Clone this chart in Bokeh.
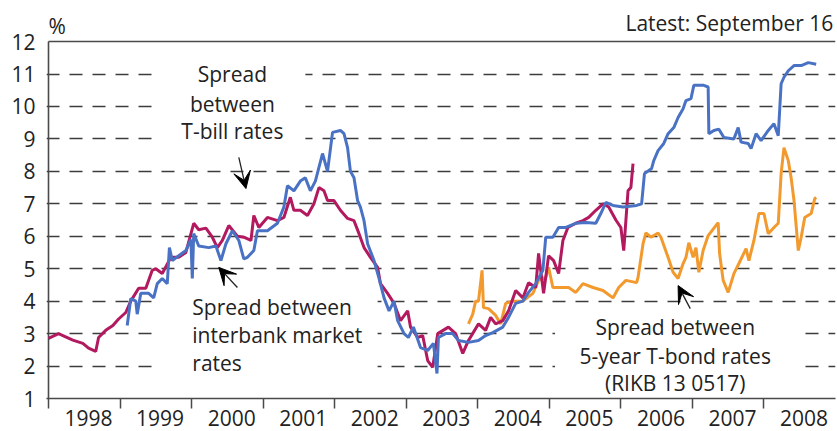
from bokeh.plotting import figure
from bokeh.models import Range1d, FixedTicker, Label, Arrow, VeeHead
from bokeh.embed import file_html
from bokeh.resources import INLINE

# ---------------- data (decimal year, %) ----------------
interbank_t = [1998.00, 1998.14, 1998.34, 1998.48, 1998.56, 1998.66, 1998.70, 1998.80, 1998.90, 1998.98,
               1999.08, 1999.15, 1999.26, 1999.36, 1999.45, 1999.50, 1999.59, 1999.71, 1999.82, 1999.92,
               2000.03, 2000.10, 2000.20, 2000.29, 2000.36, 2000.43, 2000.52, 2000.64, 2000.73, 2000.83,
               2000.87, 2000.94, 2001.06, 2001.20, 2001.29, 2001.38, 2001.43, 2001.52, 2001.62, 2001.71,
               2001.78, 2001.85, 2001.90, 2001.99, 2002.08, 2002.18, 2002.27, 2002.34, 2002.41, 2002.50,
               2002.60, 2002.64, 2002.74, 2002.83, 2002.92, 2003.02, 2003.06, 2003.16, 2003.23, 2003.30,
               2003.37, 2003.44, 2003.59, 2003.69, 2003.79, 2003.87, 2004.01, 2004.11, 2004.18, 2004.25,
               2004.35, 2004.43, 2004.53, 2004.63, 2004.71, 2004.81, 2004.85, 2004.92, 2004.99, 2005.06,
               2005.13, 2005.19, 2005.26, 2005.37, 2005.47, 2005.55, 2005.65, 2005.75, 2005.83, 2005.93,
               2006.00, 2006.04, 2006.10, 2006.14, 2006.17]
interbank_v = [2.85, 3.00, 2.80, 2.70, 2.55, 2.45, 2.88, 3.10, 3.25, 3.45,
               3.65, 4.00, 4.40, 4.40, 4.95, 5.00, 4.85, 5.35, 5.35, 5.50,
               6.40, 6.20, 6.25, 5.97, 5.65, 5.87, 6.33, 6.00, 5.97, 5.87,
               6.64, 6.27, 6.58, 6.48, 6.58, 7.20, 6.80, 6.80, 6.64, 7.00,
               7.50, 7.40, 7.10, 7.10, 6.80, 6.55, 6.48, 6.08, 5.65, 5.35,
               5.04, 4.54, 4.24, 3.93, 3.40, 3.70, 3.20, 2.88, 2.94, 2.17,
               1.96, 3.00, 3.20, 3.00, 2.39, 2.79, 3.30, 3.10, 3.50, 3.30,
               3.40, 3.70, 4.33, 4.10, 4.57, 4.42, 5.47, 4.24, 5.40, 5.25,
               4.85, 5.87, 6.27, 6.40, 6.48, 6.58, 6.80, 7.00, 6.90, 6.50,
               6.27, 5.56, 7.40, 7.50, 8.24]

tbill_t = [1999.10, 1999.15, 1999.22, 1999.24, 1999.29, 1999.40, 1999.47, 1999.52, 1999.59, 1999.66,
           1999.69, 1999.73, 1999.82, 1999.92, 1999.99, 2000.01, 2000.03, 2000.10, 2000.24, 2000.34,
           2000.41, 2000.48, 2000.57, 2000.66, 2000.73, 2000.78, 2000.87, 2000.92, 2001.06, 2001.20,
           2001.29, 2001.34, 2001.43, 2001.52, 2001.59, 2001.66, 2001.73, 2001.83, 2001.90, 2001.97,
           2002.08, 2002.13, 2002.18, 2002.22, 2002.27, 2002.32, 2002.36, 2002.41, 2002.46, 2002.55,
           2002.62, 2002.69, 2002.76, 2002.83, 2002.88, 2002.97, 2003.03, 2003.10, 2003.20, 2003.30,
           2003.38, 2003.43, 2003.45, 2003.55, 2003.65, 2003.73, 2003.87, 2004.01, 2004.11, 2004.21,
           2004.35, 2004.43, 2004.53, 2004.63, 2004.71, 2004.81, 2004.91, 2004.95, 2005.05, 2005.13,
           2005.23, 2005.37, 2005.51, 2005.65, 2005.72, 2005.79, 2005.89, 2006.03, 2006.22, 2006.29,
           2006.33, 2006.43, 2006.46, 2006.52, 2006.60, 2006.66, 2006.74, 2006.80, 2006.87, 2006.91,
           2006.98, 2007.02, 2007.16, 2007.22, 2007.23, 2007.30, 2007.37, 2007.44, 2007.58, 2007.64,
           2007.68, 2007.78, 2007.82, 2007.89, 2007.96, 2008.06, 2008.14, 2008.20, 2008.24, 2008.28,
           2008.34, 2008.42, 2008.52, 2008.62, 2008.73]
tbill_v = [3.25, 4.08, 4.00, 3.60, 4.24, 4.24, 4.10, 4.54, 4.70, 4.54,
           5.65, 5.25, 5.40, 5.56, 5.90, 4.70, 6.08, 5.70, 5.65, 5.70,
           5.25, 5.77, 6.17, 5.87, 5.30, 5.35, 5.56, 6.17, 6.17, 6.40,
           6.90, 7.56, 7.40, 7.70, 7.80, 7.40, 7.70, 8.55, 8.00, 9.20,
           9.26, 9.16, 8.73, 8.00, 7.80, 7.10, 6.90, 6.48, 5.77, 5.25,
           4.70, 4.10, 3.70, 4.00, 3.40, 3.00, 2.88, 3.20, 2.57, 2.48,
           2.70, 1.77, 2.88, 3.00, 3.00, 2.79, 2.73, 2.79, 2.94, 3.03,
           3.20, 3.50, 3.93, 4.00, 4.27, 4.54, 4.95, 5.97, 5.97, 6.27,
           6.27, 6.40, 6.42, 6.40, 6.70, 7.04, 6.95, 6.90, 6.95, 7.00,
           7.93, 8.09, 8.33, 8.64, 8.86, 9.16, 9.35, 9.66, 9.93, 10.18,
           10.24, 10.65, 10.65, 10.60, 9.16, 9.26, 9.30, 9.04, 9.00, 9.35,
           8.90, 8.86, 8.70, 9.16, 8.95, 9.26, 9.47, 9.10, 10.70, 10.90,
           11.10, 11.26, 11.26, 11.35, 11.30]

tbond_t = [2003.87, 2003.93, 2003.97, 2004.01, 2004.06, 2004.08, 2004.15, 2004.25, 2004.32, 2004.39,
           2004.49, 2004.63, 2004.77, 2004.85, 2004.95, 2004.99, 2005.05, 2005.13, 2005.27, 2005.37,
           2005.47, 2005.61, 2005.75, 2005.89, 2005.97, 2006.07, 2006.22, 2006.24, 2006.31, 2006.35,
           2006.42, 2006.52, 2006.56, 2006.66, 2006.73, 2006.80, 2006.87, 2006.91, 2006.95, 2007.01,
           2007.05, 2007.09, 2007.15, 2007.22, 2007.36, 2007.38, 2007.43, 2007.50, 2007.58, 2007.65,
           2007.75, 2007.79, 2007.86, 2007.93, 2008.00, 2008.06, 2008.14, 2008.20, 2008.24, 2008.28,
           2008.34, 2008.38, 2008.42, 2008.48, 2008.52, 2008.57, 2008.66, 2008.71, 2008.73]
tbond_v = [3.30, 3.60, 4.00, 4.00, 4.95, 3.80, 3.77, 3.56, 3.30, 3.93,
           4.00, 4.00, 4.24, 4.64, 4.73, 5.04, 4.42, 4.42, 4.42, 4.27,
           4.54, 4.42, 4.33, 4.10, 4.42, 4.64, 4.57, 4.73, 5.77, 6.10,
           5.97, 6.10, 5.97, 5.35, 4.89, 4.70, 5.16, 5.35, 5.80, 5.35,
           5.65, 4.89, 5.56, 6.02, 6.42, 5.47, 4.64, 4.27, 4.85, 5.16,
           5.62, 5.25, 5.87, 6.70, 6.70, 6.08, 6.27, 6.40, 7.93, 8.73,
           8.33, 7.80, 7.10, 5.56, 5.97, 6.58, 6.70, 7.16, 7.20]

years = ["1998", "1999", "2000", "2001", "2002", "2003", "2004", "2005", "2006", "2007", "2008"]
y_ticks = [1, 2, 3, 4, 5, 6, 7, 8, 9, 10, 11, 12]

FONT = "Open Sans"
FS = "21px"
TXT = "#222222"
AXIS = "#4a4a4a"
CRIMSON = "#B3195F"
BLUE = "#4A72C4"
ORANGE = "#F29A2E"

Y_TOP = 1 + 398 / 32.45          # frame reaches the top of the canvas so header texts fit in it
X0 = 1998 - 2 / 71.55

p = figure(width=837, height=431, x_range=Range1d(X0, 2009), y_range=Range1d(1, Y_TOP),
           output_backend="svg", toolbar_location=None,
           min_border_left=46, min_border_right=2, min_border_top=0, min_border_bottom=33)
p.outline_line_color = None
p.xgrid.visible = False
p.ygrid.ticker = FixedTicker(ticks=y_ticks[1:-1])
p.ygrid.grid_line_color = "#3c3c3c"
p.ygrid.grid_line_dash = "13 10"
p.ygrid.grid_line_width = 1.3

# y axis (line drawn separately so it stops at 12)
p.yaxis.ticker = FixedTicker(ticks=y_ticks)
p.yaxis.axis_line_color = None
p.yaxis.major_tick_line_color = None
p.yaxis.minor_tick_line_color = None
p.yaxis.major_tick_out = 0
p.yaxis.major_tick_in = 0
p.yaxis.major_label_standoff = 11
p.yaxis.major_label_text_font = FONT
p.yaxis.major_label_text_font_size = FS
p.yaxis.major_label_text_color = TXT

# x axis: labels mid-year, tick marks at year boundaries
label_pos = [int(y) + 0.56 for y in years]
p.xaxis.ticker = FixedTicker(ticks=label_pos, minor_ticks=[int(y) for y in years])
p.xaxis.major_label_overrides = {pos: lab for pos, lab in zip(label_pos, years)}
p.xaxis.major_tick_line_color = None
p.xaxis.major_tick_out = 0
p.xaxis.major_tick_in = 0
p.xaxis.minor_tick_line_color = AXIS
p.xaxis.minor_tick_line_width = 1.5
p.xaxis.minor_tick_out = 10
p.xaxis.minor_tick_in = 0
p.xaxis.major_label_standoff = 1
p.xaxis.major_label_text_font = FONT
p.xaxis.major_label_text_font_size = FS
p.xaxis.major_label_text_color = TXT
p.xaxis.axis_line_color = AXIS
p.xaxis.axis_line_width = 1.5

# left axis line and top border of the plot box
p.segment(x0=[1998, 1998], y0=[1, 12], x1=[1998, 2009], y1=[12, 12],
          line_color=AXIS, line_width=1.6)

# white boxes behind annotation texts (break the gridlines)
p.quad(left=[1999.50, 1999.47, 2005.08], right=[2001.59, 2002.60, 2008.48],
       bottom=[8.6, 1.5, 1.2], top=[11.4, 4.4, 3.45],
       fill_color="white", line_color=None)

# series
p.line(tbond_t, tbond_v, line_color=ORANGE, line_width=3)
p.line(interbank_t, interbank_v, line_color=CRIMSON, line_width=3)
p.line(tbill_t, tbill_v, line_color=BLUE, line_width=3)

def lab(x, y, t, align="center"):
    p.add_layout(Label(x=x, y=y, text=t, text_font=FONT, text_font_size=FS,
                       text_color=TXT, text_align=align, text_baseline="alphabetic"))

lab(2000.57, 11.00, "Spread")
lab(2000.57, 10.08, "between")
lab(2000.57, 9.25, "T-bill rates")

lab(2000.01, 3.82, "Spread between", "left")
lab(2000.01, 2.97, "interbank market", "left")
lab(2000.01, 2.08, "rates", "left")

lab(2006.76, 3.19, "Spread between")
lab(2006.76, 2.32, "5-year T-bond rates")
lab(2006.76, 1.49, "(RIKB 13 0517)")

lab(1998.0, 12.49, "%", "left")
lab(2008.97, 12.56, "Latest: September 16", "right")

for xs, ys, xe, ye in [(2000.66, 8.43, 2000.76, 7.47),
                       (2000.64, 4.42, 2000.38, 5.04),
                       (2006.97, 3.77, 2006.80, 4.48)]:
    p.add_layout(Arrow(end=VeeHead(size=17, fill_color="black", line_color="black"),
                       x_start=xs, y_start=ys, x_end=xe, y_end=ye,
                       line_color="#222222", line_width=1.3))

open("out.html", "w").write(file_html(p, INLINE))
